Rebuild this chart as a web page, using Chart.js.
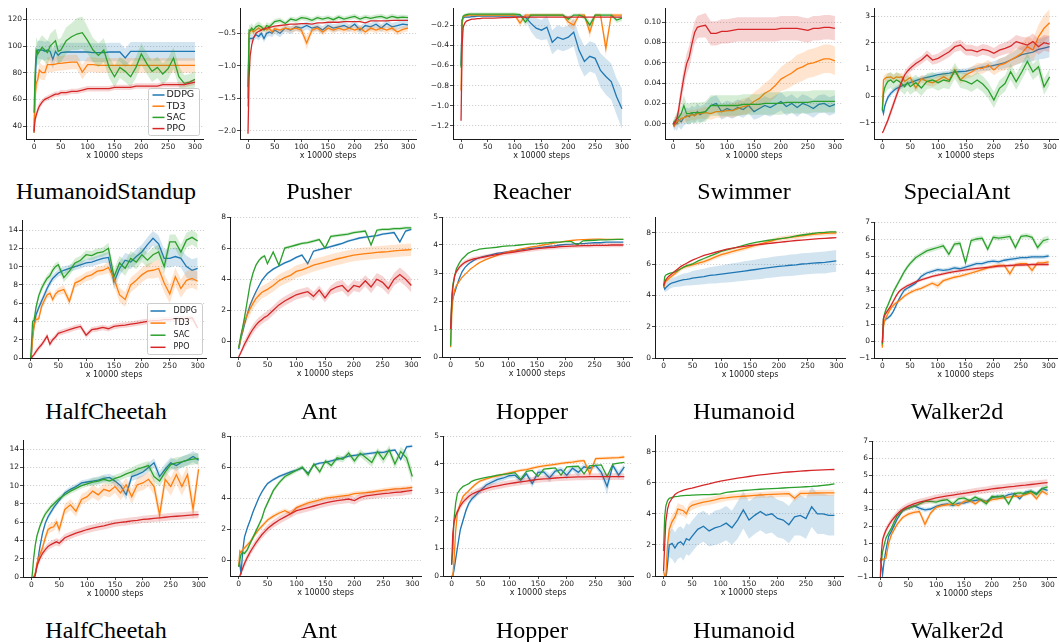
<!DOCTYPE html>
<html>
<head>
<meta charset="utf-8">
<script src="https://cdn.jsdelivr.net/npm/chart.js@4.4.1/dist/chart.umd.min.js"></script>
<style>
  html, body { margin: 0; padding: 0; background: #fff; }
  #board { position: relative; width: 1060px; height: 642px; overflow: hidden; background: #fff; }
  #board canvas { position: absolute; }
  .env { position: absolute; width: 212px; text-align: center; font-family: "Liberation Serif", "Times New Roman", serif; font-size: 24px; line-height: 24px; color: #000; }
</style>
</head>
<body>
<div id="board"></div>
<script>
// training steps (x 10000) shared by every curve
const steps = [0, 2, 4, 7, 10, 15, 20, 25, 30, 35, 40, 45, 50,
  60, 70, 80, 90, 100, 110, 120, 130, 140, 150, 160, 170, 180, 190, 200,
  210, 220, 230, 240, 250, 260, 270, 280, 290, 300];
const xTicks = [0, 50, 100, 150, 200, 250, 300];
const algos = ['DDPG', 'TD3', 'SAC', 'PPO'];
const colors = ['#1f77b4', '#ff7f0e', '#2ca02c', '#d62728'];
const bandColors = ['rgba(31,119,180,0.2)', 'rgba(255,127,14,0.2)', 'rgba(44,160,44,0.2)', 'rgba(214,39,40,0.2)'];

// ---- HumanoidStandup
const standupDdpg = [35, 70, 90, 97, 97, 97, 96, 97, 96, 90, 96, 93, 95,
  95.5, 95.5, 95.5, 95.5, 95.5, 95, 95, 95, 95.5, 95.5, 95.5, 91, 96, 96, 96, 96, 96, 96, 96, 96, 96, 96, 96, 96, 96];
const standupDdpgSd = [2, 8, 8, 7, 7, 7, 7, 7, 7, 7, 7, 7, 7,
  7, 7, 7, 7, 7, 7, 7, 7, 7, 7, 7, 7, 7, 7, 7, 7, 7, 7, 7, 7, 7, 7, 7, 7, 7];
const standupTd3 = [35, 60, 72, 75, 82, 80, 80, 86, 86, 86, 86.5, 87, 87,
  87.5, 88, 88, 80.5, 86, 86, 85.5, 85.5, 85.5, 85.5, 85.5, 85.5, 85.5, 85.5, 85.5, 85.5, 85.5, 85.5, 85.5, 85.5, 85.5, 85.5, 85.5, 85.5, 85.5];
const standupTd3Sd = [1, 6, 6, 6, 6, 5.5, 5.5, 5.5, 5.5, 5.5, 5.5, 5.5, 5.5,
  5.5, 5.5, 5.5, 5.5, 5.5, 5.5, 5.5, 5.5, 5.5, 5.5, 5.5, 5.5, 5.5, 5.5, 5.5, 5.5, 5.5, 5.5, 5.5, 5.5, 5.5, 5.5, 5.5, 5.5, 5.5];
const standupSac = [50, 80, 97, 94, 96, 99, 97, 95, 100, 102, 104, 96, 97,
  104, 107, 109, 110, 104, 97, 93, 97, 84, 77, 84, 81, 77, 84, 94, 87, 81, 84, 79, 83, 91, 77, 72, 73, 75];
const standupSacSd = [5, 10, 10, 9, 9, 9, 9, 9, 9, 9, 9, 9, 9,
  10, 10, 12, 12, 10, 9, 9, 9, 8, 8, 8, 8, 8, 8, 8, 8, 8, 8, 8, 8, 8, 8, 6, 6, 6];
const standupPpo = [36, 45, 48, 52, 55, 58, 60, 61, 62, 63, 64, 64, 65,
  65, 66, 66, 67, 68, 68, 68, 68, 68, 69, 69, 69, 69, 70, 70, 70, 70, 70, 71, 71, 71, 71, 71, 72, 73];
const standupPpoSd = [1, 3, 3, 3, 3, 2, 2, 2, 2, 2, 2, 2, 2,
  2, 2, 2, 2, 2, 2, 2, 2, 2, 2, 2, 2, 2, 2, 2, 2, 2, 2, 2, 2, 2, 2, 2, 2, 2];

// ---- Pusher
const pusherDdpg = [-1.5, -0.58, -0.58, -0.58, -0.57, -0.52, -0.55, -0.5, -0.58, -0.5, -0.48, -0.5, -0.45,
  -0.5, -0.42, -0.45, -0.4, -0.42, -0.38, -0.42, -0.4, -0.45, -0.38, -0.42, -0.4, -0.38, -0.42, -0.36,
  -0.45, -0.38, -0.4, -0.36, -0.42, -0.35, -0.4, -0.38, -0.36, -0.37];
const pusherDdpgSd = [0.1, 0.06, 0.06, 0.06, 0.06, 0.06, 0.06, 0.06, 0.06, 0.06, 0.06, 0.06, 0.06,
  0.06, 0.06, 0.06, 0.06, 0.06, 0.06, 0.06, 0.06, 0.06, 0.06, 0.06, 0.06, 0.06, 0.06, 0.06,
  0.06, 0.06, 0.06, 0.06, 0.06, 0.06, 0.06, 0.06, 0.06, 0.06];
const pusherTd3 = [-1.63, -0.5, -0.47, -0.45, -0.48, -0.45, -0.42, -0.45, -0.42, -0.45, -0.42, -0.48, -0.43,
  -0.45, -0.42, -0.44, -0.42, -0.45, -0.65, -0.45, -0.42, -0.48, -0.42, -0.45, -0.42, -0.45, -0.42, -0.45,
  -0.42, -0.48, -0.42, -0.45, -0.42, -0.45, -0.42, -0.48, -0.44, -0.42];
const pusherTd3Sd = [0.1, 0.05, 0.05, 0.05, 0.05, 0.05, 0.05, 0.05, 0.05, 0.05, 0.05, 0.05, 0.05,
  0.05, 0.05, 0.05, 0.05, 0.05, 0.1, 0.05, 0.05, 0.05, 0.05, 0.05, 0.05, 0.05, 0.05, 0.05,
  0.05, 0.05, 0.05, 0.05, 0.05, 0.05, 0.05, 0.05, 0.05, 0.05];
const pusherSac = [-1.33, -0.45, -0.46, -0.42, -0.45, -0.4, -0.38, -0.4, -0.45, -0.38, -0.4, -0.36, -0.32,
  -0.3, -0.35, -0.28, -0.3, -0.26, -0.27, -0.3, -0.26, -0.28, -0.26, -0.29, -0.25, -0.28, -0.26, -0.24,
  -0.28, -0.25, -0.27, -0.25, -0.24, -0.27, -0.24, -0.26, -0.25, -0.26];
const pusherSacSd = [0.1, 0.08, 0.08, 0.08, 0.06, 0.06, 0.06, 0.05, 0.05, 0.05, 0.05, 0.04, 0.04,
  0.04, 0.04, 0.04, 0.04, 0.04, 0.04, 0.04, 0.04, 0.04, 0.04, 0.04, 0.04, 0.04, 0.04, 0.04,
  0.04, 0.04, 0.04, 0.04, 0.04, 0.04, 0.04, 0.04, 0.04, 0.04];
const pusherPpo = [-2.05, -1.2, -0.85, -0.68, -0.58, -0.5, -0.47, -0.45, -0.43, -0.42, -0.41, -0.4, -0.39,
  -0.38, -0.37, -0.36, -0.36, -0.35, -0.35, -0.36, -0.34, -0.34, -0.33, -0.33, -0.33, -0.32, -0.32, -0.32,
  -0.32, -0.34, -0.31, -0.31, -0.31, -0.31, -0.3, -0.3, -0.3, -0.3];

// ---- Reacher
const reacherDdpg = [-0.6, -0.15, -0.13, -0.12, -0.12, -0.12, -0.115, -0.115, -0.11, -0.11, -0.11, -0.11, -0.11,
  -0.11, -0.11, -0.11, -0.11, -0.11, -0.11, -0.12, -0.18, -0.23, -0.25, -0.22, -0.37, -0.32, -0.34, -0.32,
  -0.27, -0.45, -0.56, -0.51, -0.53, -0.65, -0.71, -0.76, -0.91, -1.03];
const reacherDdpgSd = [0.05, 0.02, 0.01, 0.01, 0.01, 0.01, 0.01, 0.01, 0.01, 0.01, 0.01, 0.01, 0.01,
  0.01, 0.01, 0.01, 0.01, 0.01, 0.01, 0.03, 0.08, 0.1, 0.1, 0.12, 0.12, 0.12, 0.12, 0.12,
  0.14, 0.15, 0.15, 0.15, 0.15, 0.17, 0.18, 0.18, 0.18, 0.2];
const reacherTd3 = [-0.85, -0.2, -0.12, -0.11, -0.105, -0.1, -0.1, -0.1, -0.1, -0.1, -0.1, -0.1, -0.1,
  -0.1, -0.1, -0.1, -0.1, -0.1, -0.18, -0.1, -0.1, -0.1, -0.1, -0.1, -0.1, -0.1, -0.1, -0.17,
  -0.2, -0.1, -0.1, -0.27, -0.1, -0.1, -0.43, -0.1, -0.1, -0.1];
const reacherTd3Sd = [0.1, 0.03, 0.015, 0.015, 0.015, 0.015, 0.015, 0.015, 0.015, 0.015, 0.015, 0.015, 0.015,
  0.015, 0.015, 0.015, 0.015, 0.015, 0.04, 0.015, 0.015, 0.015, 0.015, 0.015, 0.015, 0.015, 0.015, 0.04,
  0.05, 0.015, 0.015, 0.06, 0.015, 0.015, 0.08, 0.015, 0.015, 0.015];
const reacherSac = [-0.62, -0.15, -0.11, -0.1, -0.095, -0.09, -0.09, -0.09, -0.09, -0.09, -0.09, -0.09, -0.09,
  -0.09, -0.09, -0.09, -0.09, -0.09, -0.095, -0.17, -0.1, -0.1, -0.1, -0.1, -0.1, -0.1, -0.1, -0.14,
  -0.1, -0.1, -0.12, -0.2, -0.1, -0.1, -0.1, -0.1, -0.15, -0.13];
const reacherSacSd = [0.1, 0.03, 0.015, 0.015, 0.015, 0.015, 0.015, 0.015, 0.015, 0.015, 0.015, 0.015, 0.015,
  0.015, 0.015, 0.015, 0.015, 0.015, 0.015, 0.04, 0.015, 0.015, 0.015, 0.015, 0.015, 0.015, 0.015, 0.03,
  0.015, 0.015, 0.03, 0.04, 0.015, 0.015, 0.015, 0.015, 0.03, 0.03];
const reacherPpo = [-1.15, -0.4, -0.22, -0.18, -0.16, -0.15, -0.14, -0.14, -0.135, -0.135, -0.13, -0.13, -0.13,
  -0.13, -0.128, -0.125, -0.125, -0.122, -0.12, -0.12, -0.12, -0.12, -0.12, -0.12, -0.12, -0.12, -0.12, -0.12,
  -0.12, -0.12, -0.12, -0.12, -0.12, -0.12, -0.12, -0.12, -0.12, -0.12];

// ---- Swimmer
const swimmerDdpg = [0, -0.002, 0.001, 0, 0.004, 0.002, 0.006, 0.008, 0.007, 0.01, 0.008, 0.012, 0.009,
  0.012, 0.018, 0.02, 0.012, 0.015, 0.013, 0.016, 0.014, 0.018, 0.012, 0.015, 0.018, 0.016, 0.019, 0.022,
  0.017, 0.02, 0.016, 0.02, 0.018, 0.015, 0.019, 0.02, 0.017, 0.019];
const swimmerDdpgSd = [0.003, 0.005, 0.006, 0.007, 0.007, 0.008, 0.008, 0.008, 0.008, 0.008, 0.008, 0.008, 0.008,
  0.008, 0.008, 0.008, 0.008, 0.008, 0.008, 0.008, 0.008, 0.008, 0.008, 0.009, 0.009, 0.009, 0.009, 0.009,
  0.009, 0.009, 0.009, 0.009, 0.009, 0.009, 0.009, 0.009, 0.009, 0.009];
const swimmerTd3 = [0, -0.002, 0, 0.002, 0.003, 0.005, 0.006, 0.007, 0.008, 0.009, 0.008, 0.01, 0.01,
  0.011, 0.01, 0.012, 0.012, 0.013, 0.013, 0.015, 0.017, 0.018, 0.022, 0.025, 0.03, 0.033, 0.038, 0.044,
  0.047, 0.05, 0.054, 0.056, 0.059, 0.06, 0.062, 0.064, 0.064, 0.062];
const swimmerTd3Sd = [0.002, 0.003, 0.003, 0.004, 0.004, 0.004, 0.005, 0.005, 0.005, 0.005, 0.005, 0.005, 0.005,
  0.006, 0.006, 0.006, 0.006, 0.006, 0.007, 0.007, 0.008, 0.008, 0.009, 0.01, 0.01, 0.011, 0.012, 0.012,
  0.013, 0.013, 0.014, 0.014, 0.014, 0.014, 0.014, 0.014, 0.014, 0.014];
const swimmerSac = [0, 0.002, 0.003, 0.005, 0.006, 0.01, 0.018, 0.01, 0.01, 0.011, 0.011, 0.011, 0.011,
  0.012, 0.018, 0.018, 0.018, 0.018, 0.018, 0.018, 0.019, 0.019, 0.019, 0.019, 0.02, 0.02, 0.02, 0.02,
  0.021, 0.021, 0.021, 0.021, 0.021, 0.022, 0.022, 0.022, 0.022, 0.022];
const swimmerSacSd = [0.003, 0.004, 0.005, 0.006, 0.007, 0.008, 0.01, 0.01, 0.01, 0.01, 0.01, 0.01, 0.01,
  0.01, 0.01, 0.01, 0.01, 0.01, 0.01, 0.01, 0.01, 0.01, 0.01, 0.01, 0.011, 0.011, 0.011, 0.011,
  0.011, 0.011, 0.011, 0.011, 0.011, 0.011, 0.011, 0.011, 0.011, 0.011];
const swimmerPpo = [0, 0, 0.002, 0.005, 0.013, 0.03, 0.046, 0.059, 0.066, 0.079, 0.09, 0.095, 0.096,
  0.097, 0.089, 0.089, 0.091, 0.091, 0.092, 0.093, 0.093, 0.093, 0.093, 0.093, 0.093, 0.093, 0.093, 0.094,
  0.094, 0.094, 0.094, 0.093, 0.092, 0.094, 0.094, 0.095, 0.095, 0.094];
const swimmerPpoSd = [0.003, 0.003, 0.004, 0.005, 0.007, 0.009, 0.01, 0.01, 0.011, 0.011, 0.011, 0.011, 0.011,
  0.012, 0.012, 0.012, 0.012, 0.012, 0.012, 0.012, 0.012, 0.012, 0.012, 0.012, 0.012, 0.012, 0.012, 0.012,
  0.012, 0.012, 0.012, 0.012, 0.012, 0.012, 0.012, 0.012, 0.012, 0.012];

// ---- SpecialAnt
const specialDdpg = [-0.5, -0.65, -0.4, -0.2, -0.05, 0.1, 0.2, 0.28, 0.33, 0.38, 0.42, 0.47, 0.5,
  0.58, 0.65, 0.7, 0.75, 0.8, 0.83, 0.86, 0.9, 0.92, 0.93, 0.98, 1.03, 1.08, 1.1, 1.15,
  1.2, 1.25, 1.35, 1.45, 1.55, 1.6, 1.65, 1.75, 1.8, 1.85];
const specialDdpgSd = [0.05, 0.1, 0.1, 0.1, 0.1, 0.1, 0.1, 0.1, 0.1, 0.1, 0.1, 0.1, 0.1,
  0.1, 0.1, 0.1, 0.1, 0.1, 0.1, 0.1, 0.1, 0.1, 0.1, 0.12, 0.12, 0.14, 0.15, 0.15,
  0.2, 0.22, 0.25, 0.28, 0.3, 0.32, 0.35, 0.38, 0.4, 0.4];
const specialTd3 = [-0.5, 0.6, 0.65, 0.7, 0.7, 0.72, 0.65, 0.72, 0.7, 0.72, 0.55, 0.62, 0.7,
  0.3, 0.65, 0.55, 0.5, 0.6, 0.72, 0.6, 0.98, 0.6, 0.8, 0.9, 1.04, 1.04, 1.16, 0.98,
  1.16, 1.22, 1.35, 1.47, 1.6, 1.85, 1.72, 2.22, 2.54, 2.75];
const specialTd3Sd = [0.1, 0.15, 0.15, 0.15, 0.15, 0.15, 0.15, 0.15, 0.15, 0.15, 0.15, 0.15, 0.15,
  0.15, 0.15, 0.15, 0.15, 0.15, 0.15, 0.15, 0.15, 0.15, 0.15, 0.2, 0.2, 0.2, 0.2, 0.2,
  0.25, 0.25, 0.3, 0.3, 0.35, 0.4, 0.4, 0.45, 0.5, 0.5];
const specialSac = [-0.55, 0.1, 0.3, 0.45, 0.55, 0.6, 0.5, 0.6, 0.55, 0.45, 0.35, 0.5, 0.35,
  0.5, 0.3, 0.55, 0.6, 0.5, 0.6, 0.55, 0.95, 0.6, 0.55, 0.45, 0.6, 0.45, 0.22, -0.15,
  0.29, 0.47, 0.91, 0.54, 0.9, 1.3, 0.9, 1.1, 0.35, 0.72];
const specialSacSd = [0.1, 0.2, 0.25, 0.3, 0.3, 0.3, 0.3, 0.3, 0.3, 0.3, 0.3, 0.3, 0.3,
  0.3, 0.3, 0.3, 0.3, 0.3, 0.3, 0.3, 0.3, 0.3, 0.3, 0.3, 0.3, 0.3, 0.3, 0.3,
  0.3, 0.3, 0.3, 0.3, 0.3, 0.3, 0.3, 0.3, 0.3, 0.3];
const specialPpo = [-1.38, -1.3, -1.2, -1.05, -0.9, -0.6, -0.3, 0, 0.29, 0.55, 0.79, 0.93, 1.04,
  1.22, 1.35, 1.54, 1.35, 1.41, 1.54, 1.66, 1.85, 1.91, 1.72, 1.72, 1.66, 1.75, 1.7, 1.6,
  1.72, 1.79, 1.87, 2.04, 1.97, 1.91, 2.04, 1.85, 2.0, 1.95];
const specialPpoSd = [0.05, 0.05, 0.08, 0.1, 0.12, 0.15, 0.15, 0.15, 0.15, 0.15, 0.15, 0.15, 0.15,
  0.15, 0.15, 0.18, 0.18, 0.18, 0.2, 0.2, 0.2, 0.2, 0.2, 0.2, 0.2, 0.2, 0.2, 0.2,
  0.22, 0.22, 0.25, 0.25, 0.25, 0.28, 0.3, 0.3, 0.3, 0.3];

// ---- HalfCheetah (middle row)
const cheetahDdpg = [-0.5, 0.5, 2.5, 3.8, 4.7, 5.5, 6.2, 6.9, 7.6, 8.2, 8.7, 9.0, 9.3,
  9.6, 9.8, 10.0, 10.2, 10.4, 10.5, 10.7, 10.9, 11.0, 8.3, 9.8, 10.7, 10.5, 11.1, 11.6,
  12.4, 13.1, 12.5, 10.9, 10.9, 11.1, 10.9, 10.0, 9.6, 9.8];
const cheetahDdpgSd = [0.2, 0.4, 0.4, 0.4, 0.4, 0.4, 0.4, 0.4, 0.4, 0.4, 0.4, 0.4, 0.4,
  0.4, 0.4, 0.4, 0.4, 0.4, 0.5, 0.5, 0.5, 0.6, 0.8, 0.8, 0.8, 0.8, 0.8, 0.8,
  0.8, 0.8, 0.9, 1.0, 1.0, 1.0, 1.0, 1.2, 1.2, 1.2];
const cheetahTd3 = [-0.5, 0.5, 2.0, 3.6, 4.2, 4.3, 5.6, 6.3, 6.9, 7.1, 6.4, 7.0, 7.3,
  7.5, 6.2, 8.2, 8.5, 8.9, 9.1, 9.5, 9.6, 9.9, 8.7, 6.9, 6.4, 8.0, 8.5, 9.1,
  9.5, 9.6, 9.8, 8.2, 7.0, 8.9, 7.6, 8.5, 8.7, 8.4];
const cheetahTd3Sd = [0.2, 0.4, 0.4, 0.4, 0.4, 0.4, 0.4, 0.4, 0.4, 0.4, 0.4, 0.4, 0.4,
  0.5, 0.5, 0.5, 0.5, 0.5, 0.5, 0.5, 0.5, 0.6, 0.8, 0.8, 0.8, 0.8, 0.8, 0.8,
  0.8, 0.9, 1.0, 1.0, 1.0, 1.0, 1.0, 1.0, 1.0, 1.0];
const cheetahSac = [-0.5, 1.5, 4.0, 4.2, 5.5, 6.8, 7.6, 8.2, 8.7, 9.0, 9.6, 10.0, 10.2,
  8.8, 9.5, 10.4, 10.7, 11.3, 11.2, 11.5, 11.6, 12.0, 8.9, 10.4, 9.8, 10.9, 10.5, 11.3,
  10.7, 11.3, 11.6, 10.0, 12.7, 12.7, 11.6, 12.9, 13.2, 12.8];
const cheetahSacSd = [0.2, 0.4, 0.4, 0.4, 0.4, 0.4, 0.4, 0.4, 0.4, 0.4, 0.4, 0.4, 0.4,
  0.5, 0.5, 0.5, 0.5, 0.5, 0.5, 0.5, 0.5, 0.6, 0.8, 0.8, 0.8, 0.8, 0.8, 0.8,
  0.8, 0.8, 0.8, 0.8, 0.8, 0.8, 0.8, 0.8, 0.8, 0.8];
const cheetahPpo = [-0.3, 0, 0.2, 0.4, 0.7, 1.1, 1.45, 1.9, 2.4, 1.5, 2.0, 2.3, 2.7,
  2.9, 3.1, 3.3, 3.45, 2.5, 3.1, 3.2, 3.35, 3.2, 3.45, 3.55, 3.6, 3.7, 3.8, 3.9,
  4.0, 4.1, 4.1, 4.2, 4.2, 4.3, 4.3, 4.3, 4.4, 3.3];
const cheetahPpoSd = [0.1, 0.2, 0.2, 0.25, 0.3, 0.3, 0.3, 0.3, 0.3, 0.3, 0.3, 0.3, 0.3,
  0.3, 0.3, 0.3, 0.3, 0.3, 0.3, 0.3, 0.3, 0.3, 0.3, 0.3, 0.3, 0.3, 0.3, 0.3,
  0.3, 0.3, 0.3, 0.3, 0.3, 0.3, 0.3, 0.3, 0.3, 0.3];

// ---- Ant (middle row)
const antDdpg = [-0.5, -0.2, 0.2, 0.6, 1.07, 1.75, 2.35, 2.8, 3.2, 3.55, 3.9, 4.15, 4.37,
  4.65, 4.85, 5.05, 5.2, 5.4, 5.55, 5.0, 5.8, 5.9, 6.0, 6.1, 6.2, 6.3, 6.45, 6.55,
  6.65, 6.7, 6.75, 6.8, 6.9, 6.95, 7.0, 6.4, 7.1, 7.2];
const antDdpgSd = [0.05, 0.08, 0.08, 0.08, 0.08, 0.08, 0.08, 0.08, 0.08, 0.08, 0.08, 0.08, 0.08,
  0.08, 0.08, 0.08, 0.08, 0.08, 0.08, 0.08, 0.08, 0.08, 0.08, 0.08, 0.08, 0.08, 0.08, 0.08,
  0.08, 0.08, 0.08, 0.08, 0.08, 0.08, 0.08, 0.08, 0.08, 0.08];
const antTd3 = [-0.4, -0.1, 0.3, 0.8, 1.3, 1.7, 2.1, 2.45, 2.75, 2.95, 3.15, 3.25, 3.35,
  3.6, 3.9, 4.1, 4.25, 4.5, 4.6, 4.75, 4.9, 5.0, 5.1, 5.2, 5.3, 5.38, 5.47, 5.55,
  5.6, 5.64, 5.68, 5.72, 5.75, 5.78, 5.82, 5.85, 5.88, 5.9];
const antTd3Sd = [0.1, 0.2, 0.3, 0.35, 0.4, 0.4, 0.4, 0.4, 0.4, 0.4, 0.4, 0.4, 0.4,
  0.4, 0.4, 0.4, 0.4, 0.4, 0.4, 0.4, 0.4, 0.4, 0.4, 0.4, 0.4, 0.4, 0.4, 0.4,
  0.4, 0.4, 0.4, 0.4, 0.4, 0.4, 0.4, 0.4, 0.4, 0.4];
const antSac = [-0.4, 0.0, 0.4, 0.9, 1.5, 2.6, 3.7, 4.4, 4.9, 5.2, 5.4, 5.5, 5.0,
  5.75, 4.9, 6.0, 6.1, 6.2, 6.3, 6.35, 6.45, 6.55, 6.0, 6.75, 6.8, 6.85, 6.9, 7.0,
  7.05, 7.1, 6.2, 7.15, 7.2, 7.2, 7.25, 7.25, 7.3, 7.3];
const antSacSd = [0.05, 0.1, 0.1, 0.1, 0.1, 0.1, 0.1, 0.1, 0.1, 0.1, 0.1, 0.1, 0.1,
  0.1, 0.1, 0.1, 0.1, 0.1, 0.1, 0.1, 0.1, 0.1, 0.1, 0.1, 0.1, 0.1, 0.1, 0.1,
  0.1, 0.1, 0.1, 0.1, 0.1, 0.1, 0.1, 0.1, 0.1, 0.1];
const antPpo = [-1.0, -0.85, -0.7, -0.45, -0.2, 0.15, 0.5, 0.8, 1.05, 1.25, 1.4, 1.55, 1.65,
  2.0, 2.35, 2.6, 2.8, 3.0, 3.1, 3.2, 2.9, 3.3, 2.8, 3.3, 3.5, 3.6, 3.2, 3.6,
  3.5, 3.9, 3.5, 4.0, 3.8, 3.4, 4.0, 4.3, 4.0, 3.6];
const antPpoSd = [0.05, 0.1, 0.15, 0.2, 0.25, 0.3, 0.3, 0.3, 0.3, 0.3, 0.3, 0.3, 0.3,
  0.3, 0.3, 0.3, 0.3, 0.3, 0.3, 0.3, 0.3, 0.3, 0.3, 0.3, 0.35, 0.35, 0.35, 0.35,
  0.35, 0.35, 0.4, 0.4, 0.4, 0.4, 0.4, 0.45, 0.45, 0.45];

// ---- Hopper (middle row)
const hopperDdpg = [1.0, 1.9, 2.1, 2.3, 2.5, 2.8, 3.05, 3.2, 3.3, 3.38, 3.45, 3.5, 3.55,
  3.6, 3.65, 3.7, 3.73, 3.76, 3.8, 3.82, 3.85, 3.88, 3.9, 3.92, 3.95, 3.97, 4.0, 4.02,
  4.03, 4.05, 4.05, 4.07, 4.08, 4.08, 4.1, 4.1, 4.1, 4.1];
const hopperTd3 = [0.35, 1.5, 2.1, 2.4, 2.55, 2.7, 2.85, 2.95, 3.05, 3.15, 3.22, 3.3, 3.37,
  3.47, 3.55, 3.62, 3.69, 3.75, 3.8, 3.85, 3.89, 3.93, 3.96, 4.0, 4.03, 4.07, 4.1, 4.14,
  4.16, 4.18, 4.19, 4.2, 4.21, 4.21, 4.2, 4.2, 4.2, 4.2];
const hopperSac = [0.4, 2.2, 2.6, 2.9, 3.15, 3.35, 3.5, 3.6, 3.7, 3.75, 3.8, 3.82, 3.85,
  3.88, 3.9, 3.92, 3.95, 3.97, 3.98, 4.0, 4.02, 4.04, 4.05, 4.07, 4.08, 4.1, 4.1, 4.12,
  4.12, 4.0, 4.15, 4.16, 4.17, 4.18, 4.18, 4.19, 4.2, 4.2];
const hopperPpo = [1.0, 2.0, 2.5, 2.9, 3.05, 3.2, 3.3, 3.38, 3.43, 3.47, 3.5, 3.52, 3.54,
  3.58, 3.62, 3.66, 3.69, 3.72, 3.75, 3.78, 3.81, 3.84, 3.87, 3.89, 3.91, 3.92, 3.94, 3.95,
  3.96, 3.97, 3.98, 3.98, 3.99, 3.99, 3.99, 4.0, 4.0, 4.0];
const hopperPpoSd = [0.1, 0.08, 0.08, 0.08, 0.08, 0.08, 0.08, 0.08, 0.08, 0.08, 0.08, 0.08, 0.08,
  0.08, 0.08, 0.08, 0.08, 0.08, 0.08, 0.08, 0.08, 0.08, 0.08, 0.08, 0.08, 0.08, 0.08, 0.08,
  0.08, 0.08, 0.08, 0.08, 0.08, 0.08, 0.08, 0.08, 0.08, 0.08];

// ---- Humanoid (middle row)
const humanoidDdpg = [4.6, 4.4, 4.5, 4.6, 4.7, 4.8, 4.85, 4.9, 4.95, 5.0, 5.02, 5.05, 5.1,
  5.15, 5.2, 5.27, 5.3, 5.35, 5.4, 5.45, 5.5, 5.55, 5.6, 5.65, 5.7, 5.75, 5.8, 5.85,
  5.88, 5.92, 5.95, 6.0, 6.02, 6.05, 6.08, 6.1, 6.15, 6.2];
const humanoidDdpgSd = [0.1, 0.2, 0.25, 0.3, 0.3, 0.3, 0.32, 0.35, 0.38, 0.4, 0.4, 0.42, 0.45,
  0.48, 0.5, 0.52, 0.55, 0.55, 0.58, 0.6, 0.6, 0.62, 0.62, 0.64, 0.65, 0.65, 0.66, 0.66,
  0.66, 0.68, 0.68, 0.68, 0.68, 0.68, 0.68, 0.7, 0.7, 0.7];
const humanoidTd3 = [4.5, 4.7, 4.9, 5.0, 5.1, 5.25, 5.4, 5.55, 5.7, 5.8, 5.85, 5.9, 5.95,
  6.05, 6.15, 6.3, 6.45, 6.6, 6.7, 6.8, 6.9, 7.0, 7.1, 7.2, 7.3, 7.4, 7.5, 7.6,
  7.65, 7.7, 7.75, 7.8, 7.85, 7.9, 7.92, 7.95, 7.97, 7.98];
const humanoidTd3Sd = [0.1, 0.12, 0.15, 0.15, 0.15, 0.15, 0.15, 0.15, 0.15, 0.15, 0.15, 0.15, 0.15,
  0.15, 0.15, 0.15, 0.15, 0.15, 0.15, 0.15, 0.15, 0.15, 0.15, 0.15, 0.15, 0.15, 0.15, 0.15,
  0.15, 0.15, 0.15, 0.15, 0.15, 0.15, 0.15, 0.15, 0.15, 0.15];
const humanoidSac = [4.6, 5.2, 5.3, 5.35, 5.4, 5.45, 5.5, 5.6, 5.7, 5.8, 5.9, 5.95, 6.0,
  6.2, 6.35, 6.5, 6.65, 6.8, 6.9, 7.0, 7.1, 7.2, 7.3, 7.38, 7.45, 7.5, 7.55, 7.6,
  7.65, 7.72, 7.8, 7.85, 7.9, 7.95, 8.0, 8.02, 8.05, 8.05];
const humanoidPpo = [4.6, 4.85, 5.0, 5.15, 5.25, 5.4, 5.55, 5.7, 5.85, 5.95, 6.05, 6.15, 6.25,
  6.4, 6.55, 6.65, 6.75, 6.85, 6.95, 7.02, 7.08, 7.13, 7.18, 7.22, 7.26, 7.3, 7.34, 7.38,
  7.42, 7.46, 7.5, 7.53, 7.56, 7.59, 7.62, 7.64, 7.66, 7.68];

// ---- Walker2d (middle row)
const walkerDdpg = [-0.3, 1.0, 1.2, 1.3, 1.35, 1.5, 1.75, 2.1, 2.45, 2.75, 3.0, 3.1, 3.2,
  3.4, 3.8, 4.0, 4.1, 4.2, 4.15, 4.2, 4.3, 4.25, 4.35, 4.45, 4.55, 4.55, 4.65, 4.7,
  4.65, 4.75, 4.8, 4.85, 4.9, 4.9, 4.95, 4.95, 4.95, 5.0];
const walkerDdpgSd = [0.1, 0.12, 0.12, 0.12, 0.12, 0.12, 0.12, 0.12, 0.12, 0.12, 0.12, 0.12, 0.12,
  0.12, 0.12, 0.12, 0.12, 0.12, 0.12, 0.12, 0.12, 0.12, 0.12, 0.12, 0.12, 0.12, 0.12, 0.12,
  0.12, 0.12, 0.12, 0.12, 0.12, 0.12, 0.12, 0.12, 0.12, 0.12];
const walkerTd3 = [-0.4, 0.8, 1.2, 1.4, 1.6, 1.9, 2.1, 2.25, 2.35, 2.5, 2.65, 2.75, 2.85,
  3.0, 3.1, 3.25, 3.4, 3.25, 3.55, 3.65, 3.75, 3.82, 3.9, 4.0, 4.1, 4.2, 4.3, 4.4,
  4.45, 4.45, 3.95, 4.5, 4.55, 4.55, 4.15, 4.6, 4.6, 4.65];
const walkerTd3Sd = [0.1, 0.12, 0.12, 0.12, 0.12, 0.12, 0.12, 0.12, 0.12, 0.12, 0.12, 0.12, 0.12,
  0.12, 0.12, 0.12, 0.12, 0.2, 0.12, 0.12, 0.12, 0.12, 0.12, 0.12, 0.12, 0.12, 0.12, 0.12,
  0.12, 0.12, 0.2, 0.12, 0.12, 0.12, 0.2, 0.12, 0.12, 0.12];
const walkerSac = [-0.2, 1.3, 1.6, 1.9, 2.1, 2.5, 2.9, 3.2, 3.5, 3.8, 4.1, 4.35, 4.55,
  4.9, 5.1, 5.3, 5.4, 5.5, 5.6, 5.1, 5.7, 5.75, 4.6, 5.9, 6.0, 6.05, 5.4, 6.1,
  6.05, 6.1, 6.15, 5.5, 6.15, 6.2, 6.1, 5.5, 5.9, 6.0];
const walkerSacSd = [0.1, 0.15, 0.15, 0.15, 0.15, 0.15, 0.15, 0.15, 0.15, 0.15, 0.15, 0.15, 0.15,
  0.15, 0.15, 0.15, 0.15, 0.15, 0.15, 0.2, 0.15, 0.15, 0.2, 0.15, 0.15, 0.15, 0.2, 0.15,
  0.15, 0.15, 0.15, 0.2, 0.15, 0.15, 0.15, 0.2, 0.2, 0.2];
const walkerPpo = [-0.1, 1.3, 1.5, 1.65, 1.8, 2.05, 2.35, 2.65, 2.9, 3.05, 3.15, 3.25, 3.32,
  3.48, 3.6, 3.7, 3.8, 3.88, 3.95, 4.02, 4.08, 4.13, 4.18, 4.23, 4.27, 4.3, 4.33, 4.36,
  4.4, 4.42, 4.44, 4.46, 4.47, 4.48, 4.5, 4.5, 4.5, 4.5];
const walkerPpoSd = [0.1, 0.1, 0.1, 0.1, 0.1, 0.1, 0.1, 0.1, 0.1, 0.1, 0.1, 0.1, 0.1,
  0.1, 0.1, 0.1, 0.1, 0.1, 0.1, 0.1, 0.1, 0.1, 0.1, 0.1, 0.1, 0.1, 0.1, 0.1,
  0.1, 0.1, 0.1, 0.1, 0.1, 0.1, 0.1, 0.1, 0.1, 0.1];

// ---- HalfCheetah (bottom row)
const cheetah2Ddpg = [-0.5, -0.2, 0.0, 0.3, 1.2, 3.2, 4.8, 5.9, 6.6, 7.1, 7.6, 8.0, 8.4,
  9.2, 9.6, 9.9, 10.3, 10.4, 10.5, 10.6, 10.8, 10.9, 10.5, 10.0, 9.0, 11.0, 11.2, 11.5,
  12.0, 12.5, 11.0, 11.8, 12.5, 12.2, 12.6, 12.8, 13.2, 12.8];
const cheetah2DdpgSd = [0.1, 0.2, 0.3, 0.3, 0.3, 0.3, 0.3, 0.3, 0.3, 0.3, 0.3, 0.3, 0.3,
  0.3, 0.3, 0.3, 0.3, 0.3, 0.4, 0.4, 0.4, 0.4, 0.5, 0.5, 0.6, 0.5, 0.5, 0.5,
  0.5, 0.5, 0.6, 0.6, 0.6, 0.6, 0.6, 0.6, 0.6, 0.6];
const cheetah2Td3 = [-0.5, -0.5, -0.3, 0.4, 1.5, 2.4, 3.2, 4.3, 5.2, 5.4, 5.5, 6.0, 5.2,
  7.4, 7.9, 7.2, 8.5, 8.8, 9.4, 9.0, 9.6, 9.4, 9.9, 9.2, 10.1, 8.8, 10.1, 10.3,
  10.7, 9.9, 6.8, 10.7, 9.9, 11.2, 9.9, 11.2, 7.4, 11.8];
const cheetah2Td3Sd = [0.1, 0.2, 0.3, 0.4, 0.5, 0.5, 0.5, 0.5, 0.5, 0.5, 0.5, 0.5, 0.6,
  0.6, 0.6, 0.6, 0.6, 0.6, 0.7, 0.7, 0.7, 0.7, 0.7, 0.8, 0.8, 0.8, 0.8, 0.8,
  0.8, 0.9, 1.0, 0.9, 1.0, 1.0, 1.0, 1.0, 1.2, 1.0];
const cheetah2Sac = [-0.5, 0.5, 2.0, 3.5, 4.5, 5.5, 6.3, 6.9, 7.3, 7.7, 8.0, 8.3, 8.6,
  9.0, 9.4, 9.7, 10.0, 10.2, 10.4, 10.5, 10.7, 10.5, 10.8, 11.0, 11.3, 11.5, 11.8, 12.0,
  12.2, 11.0, 10.5, 11.5, 12.3, 12.5, 12.6, 12.8, 12.9, 13.0];
const cheetah2SacSd = [0.1, 0.2, 0.3, 0.3, 0.3, 0.3, 0.3, 0.3, 0.3, 0.3, 0.3, 0.3, 0.3,
  0.3, 0.3, 0.3, 0.3, 0.3, 0.4, 0.4, 0.4, 0.4, 0.4, 0.4, 0.4, 0.5, 0.5, 0.5,
  0.5, 0.6, 0.6, 0.6, 0.6, 0.6, 0.6, 0.6, 0.6, 0.6];
const cheetah2Ppo = [-0.5, -0.5, -0.3, 0.2, 1.2, 2.0, 2.6, 3.0, 3.35, 3.55, 3.7, 3.85, 3.7,
  4.3, 4.55, 4.8, 5.0, 5.2, 5.35, 5.5, 5.6, 5.75, 5.9, 5.98, 6.05, 6.15, 6.2, 6.3,
  6.35, 6.42, 6.48, 6.54, 6.6, 6.65, 6.7, 6.75, 6.8, 6.82];
const cheetah2PpoSd = [0.1, 0.2, 0.3, 0.35, 0.4, 0.4, 0.4, 0.4, 0.4, 0.4, 0.4, 0.4, 0.4,
  0.4, 0.4, 0.4, 0.4, 0.4, 0.4, 0.4, 0.4, 0.4, 0.4, 0.4, 0.4, 0.4, 0.4, 0.4,
  0.4, 0.4, 0.4, 0.4, 0.4, 0.4, 0.4, 0.4, 0.4, 0.4];

// ---- Ant (bottom row)
const ant2Ddpg = [-0.4, -0.2, -0.9, 0.6, 1.5, 2.1, 2.6, 3.15, 3.6, 4.05, 4.4, 4.7, 4.95,
  5.2, 5.4, 5.55, 5.7, 5.8, 5.95, 5.6, 6.15, 6.25, 6.3, 6.4, 6.5, 6.6, 6.7, 6.75,
  6.8, 6.85, 6.9, 6.95, 6.95, 7.05, 7.1, 6.5, 7.3, 7.35];
const ant2DdpgSd = [0.05, 0.1, 0.1, 0.1, 0.1, 0.1, 0.1, 0.1, 0.1, 0.1, 0.1, 0.1, 0.1,
  0.1, 0.1, 0.1, 0.1, 0.1, 0.1, 0.1, 0.1, 0.1, 0.1, 0.1, 0.1, 0.1, 0.1, 0.1,
  0.1, 0.1, 0.1, 0.1, 0.1, 0.1, 0.1, 0.1, 0.1, 0.1];
const ant2Td3 = [-0.4, 0.6, 0.5, 0.7, 0.8, 1.0, 1.2, 1.5, 1.75, 2.0, 2.2, 2.4, 2.6,
  2.85, 3.05, 3.2, 3.0, 3.4, 3.55, 3.7, 3.8, 3.9, 4.0, 4.05, 4.1, 4.15, 4.2, 4.3,
  4.33, 4.36, 4.4, 4.45, 4.5, 4.55, 4.6, 4.62, 4.65, 4.7];
const ant2Td3Sd = [0.1, 0.15, 0.15, 0.15, 0.15, 0.15, 0.15, 0.15, 0.15, 0.15, 0.15, 0.15, 0.15,
  0.15, 0.15, 0.15, 0.2, 0.15, 0.15, 0.15, 0.15, 0.15, 0.15, 0.15, 0.15, 0.15, 0.15, 0.15,
  0.15, 0.15, 0.15, 0.15, 0.15, 0.15, 0.15, 0.15, 0.15, 0.15];
const ant2Sac = [-0.4, 0.0, 0.4, 0.5, 0.45, 0.7, 1.1, 1.5, 1.9, 2.3, 2.7, 3.3, 3.7,
  4.5, 5.0, 5.4, 5.6, 5.8, 6.0, 5.5, 6.2, 5.7, 6.4, 6.1, 6.6, 6.5, 6.9, 6.4,
  6.9, 6.6, 6.3, 7.0, 6.5, 7.1, 6.2, 7.0, 6.6, 5.4];
const ant2SacSd = [0.05, 0.1, 0.15, 0.15, 0.15, 0.15, 0.15, 0.15, 0.15, 0.15, 0.15, 0.15, 0.15,
  0.15, 0.15, 0.15, 0.15, 0.15, 0.15, 0.2, 0.15, 0.2, 0.15, 0.2, 0.2, 0.2, 0.2, 0.25,
  0.25, 0.25, 0.3, 0.25, 0.3, 0.3, 0.3, 0.3, 0.4, 0.5];
const ant2Ppo = [-1.2, -1.0, -0.8, -0.5, -0.2, 0.2, 0.55, 0.85, 1.15, 1.4, 1.65, 1.85, 2.05,
  2.35, 2.6, 2.8, 3.0, 3.2, 3.3, 3.4, 3.5, 3.6, 3.7, 3.78, 3.85, 3.9, 3.95, 3.85,
  4.05, 4.15, 4.2, 4.25, 4.3, 4.33, 4.37, 4.4, 4.45, 4.5];
const ant2PpoSd = [0.05, 0.1, 0.15, 0.2, 0.25, 0.25, 0.25, 0.25, 0.25, 0.25, 0.25, 0.25, 0.25,
  0.25, 0.25, 0.25, 0.25, 0.25, 0.25, 0.25, 0.25, 0.25, 0.25, 0.25, 0.25, 0.25, 0.25, 0.25,
  0.25, 0.25, 0.25, 0.25, 0.25, 0.25, 0.25, 0.25, 0.25, 0.25];

// ---- Hopper (bottom row)
const hopper2Ddpg = [0.0, 0.0, 0.2, 0.6, 1.0, 1.65, 2.0, 2.35, 2.6, 2.75, 2.85, 2.95, 3.05,
  3.25, 3.35, 3.45, 3.5, 3.58, 3.6, 3.42, 3.65, 3.3, 3.7, 3.72, 3.5, 3.75, 3.8, 3.6,
  3.85, 3.7, 3.9, 3.85, 3.95, 3.7, 3.2, 3.95, 3.6, 3.9];
const hopper2DdpgSd = [0.05, 0.1, 0.1, 0.1, 0.1, 0.1, 0.1, 0.1, 0.1, 0.1, 0.1, 0.1, 0.1,
  0.1, 0.1, 0.1, 0.1, 0.1, 0.1, 0.15, 0.1, 0.15, 0.1, 0.1, 0.15, 0.1, 0.1, 0.15,
  0.1, 0.15, 0.1, 0.1, 0.1, 0.15, 0.3, 0.1, 0.15, 0.1];
const hopper2Td3 = [0.0, 0.0, 0.5, 1.6, 2.25, 2.6, 2.85, 2.95, 3.05, 3.15, 3.25, 3.33, 3.4,
  3.47, 3.53, 3.58, 3.63, 3.68, 3.73, 3.77, 3.8, 3.85, 3.9, 3.93, 3.96, 3.99, 4.02, 4.05,
  4.07, 4.1, 4.12, 3.65, 4.19, 4.2, 4.21, 4.22, 4.23, 4.25];
const hopper2Td3Sd = [0.05, 0.1, 0.1, 0.1, 0.08, 0.06, 0.06, 0.06, 0.06, 0.06, 0.06, 0.06, 0.06,
  0.06, 0.06, 0.06, 0.06, 0.06, 0.06, 0.06, 0.06, 0.06, 0.06, 0.06, 0.06, 0.06, 0.06, 0.06,
  0.06, 0.06, 0.06, 0.15, 0.06, 0.06, 0.06, 0.06, 0.06, 0.06];
const hopper2Sac = [0.4, 0.9, 2.0, 2.6, 2.95, 3.1, 3.2, 3.25, 3.3, 3.38, 3.42, 3.45, 3.48,
  3.52, 3.56, 3.6, 3.63, 3.66, 3.69, 3.45, 3.74, 3.77, 3.55, 3.82, 3.84, 3.86, 3.6, 3.9,
  3.91, 3.92, 3.65, 3.94, 3.95, 3.97, 3.55, 4.0, 4.03, 4.06];
const hopper2Ppo = [0.4, 1.5, 1.9, 2.15, 2.3, 2.5, 2.65, 2.75, 2.85, 2.92, 2.97, 3.01, 3.05,
  3.12, 3.18, 3.22, 3.26, 3.3, 3.33, 3.36, 3.39, 3.42, 3.45, 3.47, 3.48, 3.5, 3.51, 3.52,
  3.53, 3.54, 3.54, 3.55, 3.55, 3.55, 3.55, 3.55, 3.55, 3.55];
const hopper2PpoSd = [0.1, 0.12, 0.12, 0.12, 0.12, 0.12, 0.12, 0.12, 0.12, 0.12, 0.12, 0.12, 0.12,
  0.12, 0.12, 0.12, 0.12, 0.12, 0.12, 0.12, 0.12, 0.12, 0.12, 0.12, 0.12, 0.12, 0.12, 0.12,
  0.12, 0.12, 0.12, 0.12, 0.12, 0.12, 0.12, 0.12, 0.12, 0.12];

// ---- Humanoid (bottom row)
const humanoid2Ddpg = [-0.3, -0.3, -0.3, 0.8, 2.0, 2.1, 1.8, 2.1, 2.2, 2.0, 2.4, 2.3, 2.55,
  3.0, 3.2, 2.9, 3.1, 3.2, 3.4, 3.1, 3.6, 4.25, 3.6, 3.9, 4.15, 3.9, 4.0, 3.7,
  3.6, 3.3, 3.8, 3.9, 3.7, 4.45, 4.0, 4.0, 3.9, 3.9];
const humanoid2DdpgSd = [0.1, 0.2, 0.3, 0.5, 0.8, 1.0, 1.0, 1.0, 1.0, 1.0, 1.0, 1.0, 1.0,
  1.0, 1.0, 1.0, 1.1, 1.1, 1.1, 1.1, 1.2, 1.2, 1.2, 1.2, 1.2, 1.2, 1.2, 1.2,
  1.2, 1.2, 1.2, 1.3, 1.3, 1.3, 1.3, 1.3, 1.3, 1.3];
const humanoid2Td3 = [0.3, 0.0, 0.0, 2.0, 3.0, 3.5, 3.8, 4.3, 4.25, 4.2, 4.0, 4.4, 4.55,
  4.65, 4.75, 4.82, 4.9, 5.0, 5.03, 5.07, 5.1, 5.13, 5.16, 5.19, 5.21, 5.23, 5.25, 5.27,
  5.28, 5.29, 5.0, 5.31, 5.32, 5.33, 5.34, 5.35, 5.35, 5.35];
const humanoid2Td3Sd = [0.1, 0.2, 0.3, 0.5, 0.5, 0.45, 0.4, 0.4, 0.35, 0.35, 0.3, 0.3, 0.3,
  0.25, 0.25, 0.25, 0.25, 0.25, 0.2, 0.2, 0.2, 0.2, 0.2, 0.2, 0.2, 0.2, 0.2, 0.2,
  0.2, 0.2, 0.2, 0.2, 0.2, 0.2, 0.2, 0.2, 0.2, 0.2];
const humanoid2Sac = [1.6, 3.8, 4.5, 4.85, 5.0, 5.05, 5.1, 5.12, 5.15, 5.17, 5.18, 5.19, 5.2,
  5.22, 5.23, 5.24, 5.26, 5.28, 5.38, 5.42, 5.46, 5.5, 5.53, 5.56, 5.58, 5.6, 5.62, 5.64,
  5.66, 5.68, 5.7, 5.72, 5.74, 5.76, 5.79, 5.83, 5.87, 5.92];
const humanoid2Ppo = [0.3, 2.0, 3.5, 4.3, 4.7, 5.0, 5.25, 5.37, 5.45, 5.52, 5.57, 5.62, 5.65,
  5.75, 5.85, 5.93, 6.02, 6.1, 6.17, 6.23, 6.29, 6.35, 6.4, 6.45, 6.5, 6.54, 6.58, 6.62,
  6.66, 6.69, 6.72, 6.75, 6.77, 6.79, 6.81, 6.83, 6.84, 6.85];

// ---- Walker2d (bottom row)
const walker2Ddpg = [0.0, -0.3, -0.85, 0.0, 0.6, 1.4, 1.7, 2.05, 2.4, 2.65, 2.9, 3.0, 3.05,
  3.2, 3.05, 2.95, 3.0, 3.15, 3.25, 3.3, 3.2, 3.35, 3.35, 3.45, 3.5, 3.55, 3.45, 3.65,
  3.75, 3.7, 3.85, 3.9, 3.6, 4.0, 4.05, 3.9, 4.2, 4.1];
const walker2DdpgSd = [0.1, 0.12, 0.12, 0.12, 0.12, 0.12, 0.12, 0.12, 0.12, 0.12, 0.12, 0.12, 0.12,
  0.12, 0.12, 0.12, 0.12, 0.12, 0.12, 0.12, 0.12, 0.12, 0.12, 0.12, 0.12, 0.12, 0.12, 0.12,
  0.12, 0.12, 0.12, 0.12, 0.12, 0.12, 0.12, 0.12, 0.12, 0.12];
const walker2Td3 = [0.0, 0.0, 0.05, 0.05, 0.1, 1.0, 1.5, 1.8, 2.1, 2.3, 2.5, 2.6, 2.7,
  2.8, 2.85, 2.1, 2.75, 3.1, 3.2, 3.25, 3.3, 3.2, 3.45, 3.5, 3.3, 3.55, 3.4, 3.55,
  3.6, 3.65, 3.7, 3.75, 3.75, 3.85, 3.95, 3.6, 4.05, 3.85];
const walker2Td3Sd = [0.1, 0.12, 0.12, 0.12, 0.12, 0.12, 0.12, 0.12, 0.12, 0.12, 0.12, 0.12, 0.12,
  0.12, 0.12, 0.25, 0.12, 0.12, 0.12, 0.12, 0.12, 0.12, 0.12, 0.12, 0.12, 0.12, 0.12, 0.12,
  0.12, 0.12, 0.12, 0.12, 0.12, 0.12, 0.12, 0.15, 0.12, 0.15];
const walker2Sac = [0.1, 0.0, 0.5, 0.9, 1.3, 1.6, 1.9, 2.25, 2.6, 2.75, 2.9, 3.0, 3.05,
  3.15, 3.3, 3.45, 3.45, 3.4, 3.5, 3.55, 3.3, 3.6, 3.65, 3.5, 3.7, 3.55, 3.3, 3.75,
  3.7, 3.8, 3.3, 3.9, 3.95, 3.9, 4.05, 3.85, 4.2, 4.3];
const walker2SacSd = [0.1, 0.12, 0.12, 0.12, 0.12, 0.12, 0.12, 0.12, 0.12, 0.12, 0.12, 0.12, 0.12,
  0.12, 0.12, 0.12, 0.12, 0.12, 0.12, 0.12, 0.15, 0.12, 0.12, 0.12, 0.12, 0.12, 0.15, 0.12,
  0.12, 0.12, 0.15, 0.12, 0.12, 0.12, 0.12, 0.15, 0.12, 0.12];
const walker2Ppo = [-1.0, 0.5, 1.2, 1.5, 1.75, 2.05, 2.3, 2.5, 2.7, 2.85, 2.98, 3.08, 3.17,
  3.3, 3.4, 3.48, 3.57, 3.65, 3.71, 3.77, 3.82, 3.87, 3.92, 3.97, 4.03, 4.08, 4.13, 4.18,
  4.22, 4.26, 4.3, 4.33, 4.37, 4.4, 4.44, 4.48, 4.52, 4.55];
const walker2PpoSd = [0.1, 0.2, 0.2, 0.2, 0.2, 0.2, 0.2, 0.2, 0.2, 0.2, 0.2, 0.2, 0.2,
  0.2, 0.2, 0.2, 0.2, 0.2, 0.2, 0.2, 0.2, 0.2, 0.2, 0.2, 0.2, 0.2, 0.2, 0.2,
  0.2, 0.2, 0.2, 0.2, 0.2, 0.2, 0.2, 0.2, 0.2, 0.2];

// panel layout: axes box [left, right, top, bottom] in page pixels
const panels = [
  { title: 'HumanoidStandup', box: [26, 203, 8, 139], y: [30.3, 128.5], ticks: [40, 60, 80, 100, 120], dec: 0,
    legend: { w: 51, h: 47, size: 9.5, top: 6.5, gap: 11.2, line: [4, 16], text: 18 },
    series: [[standupDdpg, standupDdpgSd], [standupTd3, standupTd3Sd], [standupSac, standupSacSd], [standupPpo, standupPpoSd]] },
  { title: 'Pusher', box: [240, 416, 8, 139], y: [-2.13, -0.11], ticks: [-2, -1.5, -1, -0.5], dec: 1,
    series: [[pusherDdpg, pusherDdpgSd], [pusherTd3, pusherTd3Sd], [pusherSac, pusherSacSd], [pusherPpo, null]] },
  { title: 'Reacher', box: [453, 630, 8, 139], y: [-1.33, -0.03], ticks: [-1.2, -1, -0.8, -0.6, -0.4, -0.2], dec: 1,
    series: [[reacherDdpg, reacherDdpgSd], [reacherTd3, reacherTd3Sd], [reacherSac, reacherSacSd], [reacherPpo, null]] },
  { title: 'Swimmer', box: [665, 843, 8, 139], y: [-0.015, 0.114], ticks: [0, 0.02, 0.04, 0.06, 0.08, 0.1], dec: 2,
    series: [[swimmerDdpg, swimmerDdpgSd], [swimmerTd3, swimmerTd3Sd], [swimmerSac, swimmerSacSd], [swimmerPpo, swimmerPpoSd]] },
  { title: 'SpecialAnt', box: [874, 1058, 8, 139], y: [-1.61, 3.3], ticks: [-1, 0, 1, 2, 3], dec: 0,
    series: [[specialDdpg, specialDdpgSd], [specialTd3, specialTd3Sd], [specialSac, specialSacSd], [specialPpo, specialPpoSd]] },

  { title: 'HalfCheetah', box: [22, 206, 220, 358], y: [0, 15.1], ticks: [0, 2, 4, 6, 8, 10, 12, 14], dec: 0,
    legend: { w: 55, h: 51, size: 8, top: 7.5, gap: 12.1, line: [3, 18], text: 26 },
    series: [[cheetahDdpg, cheetahDdpgSd], [cheetahTd3, cheetahTd3Sd], [cheetahSac, cheetahSacSd], [cheetahPpo, cheetahPpoSd]] },
  { title: 'Ant', box: [230, 420, 217, 357], y: [-1, 8], ticks: [0, 2, 4, 6, 8], dec: 0,
    series: [[antDdpg, antDdpgSd], [antTd3, antTd3Sd], [antSac, antSacSd], [antPpo, antPpoSd]] },
  { title: 'Hopper', box: [442, 632, 217, 357], y: [0, 5], ticks: [0, 1, 2, 3, 4, 5], dec: 0,
    series: [[hopperDdpg, null], [hopperTd3, null], [hopperSac, null], [hopperPpo, hopperPpoSd]] },
  { title: 'Humanoid', box: [655, 845, 217, 358], y: [0, 9], ticks: [0, 2, 4, 6, 8], dec: 0,
    series: [[humanoidDdpg, humanoidDdpgSd], [humanoidTd3, humanoidTd3Sd], [humanoidSac, null], [humanoidPpo, null]] },
  { title: 'Walker2d', box: [874, 1057, 222, 358], y: [-1, 7], ticks: [-1, 0, 1, 2, 3, 4, 5, 6, 7], dec: 0,
    series: [[walkerDdpg, walkerDdpgSd], [walkerTd3, walkerTd3Sd], [walkerSac, walkerSacSd], [walkerPpo, walkerPpoSd]] },

  { title: 'HalfCheetah', box: [23, 207, 440, 577], y: [0, 15], ticks: [0, 2, 4, 6, 8, 10, 12, 14], dec: 0,
    series: [[cheetah2Ddpg, cheetah2DdpgSd], [cheetah2Td3, cheetah2Td3Sd], [cheetah2Sac, cheetah2SacSd], [cheetah2Ppo, cheetah2PpoSd]] },
  { title: 'Ant', box: [230, 421, 436, 576], y: [-1, 8], ticks: [0, 2, 4, 6, 8], dec: 0,
    series: [[ant2Ddpg, ant2DdpgSd], [ant2Td3, ant2Td3Sd], [ant2Sac, ant2SacSd], [ant2Ppo, ant2PpoSd]] },
  { title: 'Hopper', box: [443, 633, 436, 576], y: [0, 5], ticks: [0, 1, 2, 3, 4, 5], dec: 0,
    series: [[hopper2Ddpg, hopper2DdpgSd], [hopper2Td3, hopper2Td3Sd], [hopper2Sac, null], [hopper2Ppo, hopper2PpoSd]] },
  { title: 'Humanoid', box: [655, 843, 435, 576], y: [0, 9.07], ticks: [0, 2, 4, 6, 8], dec: 0,
    series: [[humanoid2Ddpg, humanoid2DdpgSd], [humanoid2Td3, humanoid2Td3Sd], [humanoid2Sac, null], [humanoid2Ppo, null]] },
  { title: 'Walker2d', box: [872, 1056, 441, 577], y: [-1, 7], ticks: [-1, 0, 1, 2, 3, 4, 5, 6, 7], dec: 0,
    series: [[walker2Ddpg, walker2DdpgSd], [walker2Td3, walker2Td3Sd], [walker2Sac, walker2SacSd], [walker2Ppo, walker2PpoSd]] }
];

const titleCenters = [106, 319, 532, 744, 957];
const titleTops = [179, 399, 618];

// sizes of the boxes around each plot area inside its canvas
const Y_W = 34;
const X_H = 22;
const PAD_T = 8;
const PAD_R = 6;

const INK = '#1a1a1a';
const tickFont = { family: '"DejaVu Sans", sans-serif', size: 7.5 };
const labelFont = { family: '"DejaVu Sans", sans-serif', size: 8 };

const board = document.getElementById('board');

function fmtTick(v, dec) {
  return v.toFixed(dec).replace('-', '\u2212');
}

// legend box drawn in the lower right corner of the plot area
function legendPlugin(cfg) {
  return {
    id: 'algoLegend',
    afterDraw(chart) {
      const ctx = chart.ctx;
      const a = chart.chartArea;
      const x0 = Math.round(a.right - 4 - cfg.w) + 0.5;
      const y0 = Math.round(a.bottom - 4 - cfg.h) + 0.5;
      ctx.save();
      ctx.beginPath();
      if (ctx.roundRect) ctx.roundRect(x0, y0, cfg.w, cfg.h, 2);
      else ctx.rect(x0, y0, cfg.w, cfg.h);
      ctx.fillStyle = 'rgba(255,255,255,0.8)';
      ctx.fill();
      ctx.strokeStyle = '#cccccc';
      ctx.lineWidth = 1;
      ctx.stroke();
      ctx.font = cfg.size + 'px "DejaVu Sans", sans-serif';
      ctx.textBaseline = 'middle';
      algos.forEach((name, i) => {
        const y = y0 + cfg.top + i * cfg.gap;
        ctx.strokeStyle = colors[i];
        ctx.lineWidth = 1.5;
        ctx.beginPath();
        ctx.moveTo(x0 + cfg.line[0], y);
        ctx.lineTo(x0 + cfg.line[1], y);
        ctx.stroke();
        ctx.fillStyle = INK;
        ctx.fillText(name, x0 + cfg.text, y);
      });
      ctx.restore();
    }
  };
}

function buildDatasets(p) {
  const sets = [];
  let seq = 0;
  p.series.forEach(([mean, sd], k) => {
    if (sd) {
      const lowIdx = sets.length;
      sets.push({
        data: steps.map((x, i) => ({ x, y: mean[i] - sd[i] })),
        borderWidth: 0, pointRadius: 0, fill: false, order: 100 - seq++
      });
      sets.push({
        data: steps.map((x, i) => ({ x, y: mean[i] + sd[i] })),
        borderWidth: 0, pointRadius: 0, fill: lowIdx,
        backgroundColor: bandColors[k], order: 100 - seq++
      });
    }
    sets.push({
      label: algos[k],
      data: steps.map((x, i) => ({ x, y: mean[i] })),
      borderColor: colors[k], borderWidth: 1.3, pointRadius: 0, fill: false,
      order: 100 - seq++
    });
  });
  return sets;
}

panels.forEach((p, n) => {
  const [l, r, t, b] = p.box;
  const w = r - l + Y_W + PAD_R;
  const h = b - t + PAD_T + X_H;
  const canvas = document.createElement('canvas');
  canvas.width = w;
  canvas.height = h;
  canvas.style.left = (l - Y_W) + 'px';
  canvas.style.top = (t - PAD_T) + 'px';
  canvas.style.width = w + 'px';
  canvas.style.height = h + 'px';
  board.appendChild(canvas);

  new Chart(canvas, {
    type: 'line',
    data: { datasets: buildDatasets(p) },
    options: {
      responsive: false,
      animation: false,
      events: [],
      devicePixelRatio: 1,
      layout: { padding: { top: PAD_T, right: PAD_R, left: 0, bottom: 0 } },
      plugins: { legend: { display: false }, tooltip: { enabled: false } },
      elements: { line: { tension: 0 }, point: { radius: 0 } },
      scales: {
        x: {
          type: 'linear', min: -15, max: 315,
          afterBuildTicks: s => { s.ticks = xTicks.map(v => ({ value: v })); },
          afterFit: s => { s.height = X_H; },
          grid: { drawOnChartArea: false, tickLength: 3, tickColor: INK, tickWidth: 0.8 },
          border: { color: INK, width: 1 },
          ticks: { padding: 1, color: INK, font: tickFont, maxRotation: 0, autoSkip: false, callback: v => String(v) },
          title: { display: true, text: 'x 10000 steps', color: INK, font: labelFont, padding: 0 }
        },
        y: {
          type: 'linear', min: p.y[0], max: p.y[1],
          afterBuildTicks: s => { s.ticks = p.ticks.map(v => ({ value: v })); },
          afterFit: s => { s.width = Y_W; },
          grid: { color: '#c4c4c4', lineWidth: 0.8, tickLength: 3, tickColor: INK, tickWidth: 0.8 },
          border: { color: INK, width: 1, dash: [1.2, 1.8] },
          ticks: { padding: 1, color: INK, font: tickFont, autoSkip: false, callback: v => fmtTick(v, p.dec) }
        }
      }
    },
    plugins: p.legend ? [legendPlugin(p.legend)] : []
  });

  const title = document.createElement('div');
  title.className = 'env';
  title.textContent = p.title;
  title.style.left = (titleCenters[n % 5] - 106) + 'px';
  title.style.top = titleTops[Math.floor(n / 5)] + 'px';
  board.appendChild(title);
});
</script>
</body>
</html>
